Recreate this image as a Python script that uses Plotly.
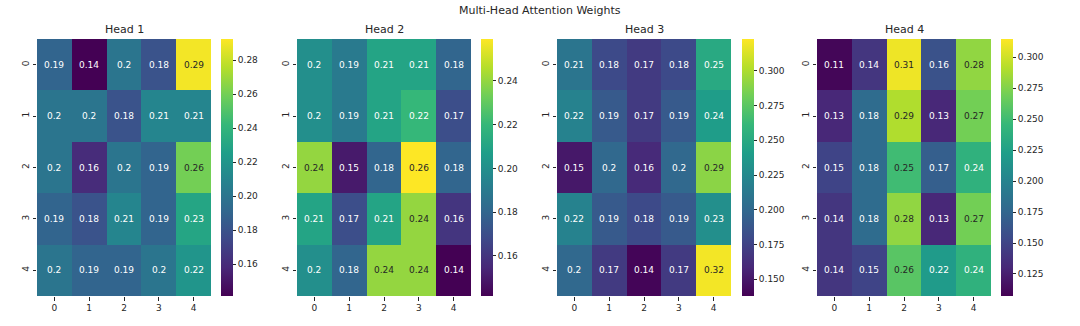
import plotly.graph_objects as go

labels = [0, 1, 2, 3, 4]
head_titles = ["Head 1", "Head 2", "Head 3", "Head 4"]

head1 = [[0.19, 0.14, 0.2, 0.18, 0.29],
         [0.2, 0.2, 0.18, 0.21, 0.21],
         [0.2, 0.16, 0.2, 0.19, 0.26],
         [0.19, 0.18, 0.21, 0.19, 0.23],
         [0.2, 0.19, 0.19, 0.2, 0.22]]
head2 = [[0.2, 0.19, 0.21, 0.21, 0.18],
         [0.2, 0.19, 0.21, 0.22, 0.17],
         [0.24, 0.15, 0.18, 0.26, 0.18],
         [0.21, 0.17, 0.21, 0.24, 0.16],
         [0.2, 0.18, 0.24, 0.24, 0.14]]
head3 = [[0.21, 0.18, 0.17, 0.18, 0.25],
         [0.22, 0.19, 0.17, 0.19, 0.24],
         [0.15, 0.2, 0.16, 0.2, 0.29],
         [0.22, 0.19, 0.18, 0.19, 0.23],
         [0.2, 0.17, 0.14, 0.17, 0.32]]
head4 = [[0.11, 0.14, 0.31, 0.16, 0.28],
         [0.13, 0.18, 0.29, 0.13, 0.27],
         [0.15, 0.18, 0.25, 0.17, 0.24],
         [0.14, 0.18, 0.28, 0.13, 0.27],
         [0.14, 0.15, 0.26, 0.22, 0.24]]
heads = [head1, head2, head3, head4]

# colour-bar ranges
z_min = [0.1412, 0.1417, 0.138, 0.1072]
z_max = [0.2924, 0.2592, 0.3228, 0.3148]
cbar_dtick = [0.02, 0.02, 0.025, 0.025]
cbar_fmt = [".2f", ".2f", ".3f", ".3f"]

W, H = 1080, 326
plot_left = [37, 297, 557, 817]
plot_w = 174
cb_left = [221, 481, 742, 1001]
top_px, bot_px = 39, 296

font = "DejaVu Sans"
txt = "#262626"

fig = go.Figure()
annotations = []
y_dom = [1 - bot_px / H, 1 - top_px / H]

for i, z in enumerate(heads):
    n = i + 1
    xa = "x" if n == 1 else f"x{n}"
    ya = "y" if n == 1 else f"y{n}"
    fig.add_trace(go.Heatmap(
        z=z, x=labels, y=labels, colorscale="Viridis",
        zmin=z_min[i], zmax=z_max[i], xaxis=xa, yaxis=ya,
        hoverinfo="skip",
        colorbar=dict(
            x=cb_left[i] / W, xanchor="left", xpad=0, ypad=0,
            y=sum(y_dom) / 2, yanchor="middle",
            len=bot_px - top_px, lenmode="pixels",
            thickness=12, thicknessmode="pixels", outlinewidth=0,
            ticks="outside", ticklen=3.5, tickwidth=0.8, tickcolor=txt,
            dtick=cbar_dtick[i], tick0=0, tickformat=cbar_fmt[i],
            tickfont=dict(family=font, size=9, color=txt),
        ),
    ))
    dom = [plot_left[i] / W, (plot_left[i] + plot_w) / W]
    axcommon = dict(showgrid=False, zeroline=False, showline=False,
                    ticks="outside", ticklen=3.5, tickwidth=0.8, tickcolor=txt,
                    tickfont=dict(family=font, size=9, color=txt),
                    tickmode="array", tickvals=labels,
                    ticktext=[str(v) for v in labels])
    fig.update_layout(**{
        ("xaxis" if n == 1 else f"xaxis{n}"): dict(domain=dom, anchor=ya, range=[-0.5, 4.5], **axcommon),
        ("yaxis" if n == 1 else f"yaxis{n}"): dict(domain=y_dom, anchor=xa, range=[4.5, -0.5], tickangle=-90, **axcommon),
    })
    span = z_max[i] - z_min[i]
    for r, row in enumerate(z):
        for c, v in enumerate(row):
            t = (v - z_min[i]) / span
            annotations.append(dict(
                x=c, y=r, xref=xa, yref=ya, text=f"{v:.2g}", showarrow=False,
                font=dict(family=font, size=9, color=txt if t > 0.675 else "white"),
            ))
    annotations.append(dict(
        x=(dom[0] + dom[1]) / 2, y=1 - 29 / H, xref="paper", yref="paper",
        text=head_titles[i], showarrow=False, xanchor="center", yanchor="middle",
        font=dict(family=font, size=11, color=txt),
    ))

annotations.append(dict(
    x=0.5, y=1 - 10 / H, xref="paper", yref="paper",
    text="Multi-Head Attention Weights", showarrow=False,
    xanchor="center", yanchor="middle",
    font=dict(family=font, size=11, color=txt),
))

fig.update_layout(
    width=W, height=H, margin=dict(l=0, r=0, t=0, b=0),
    paper_bgcolor="white", plot_bgcolor="white",
    annotations=annotations, showlegend=False,
)

fig.write_html("out.html")
